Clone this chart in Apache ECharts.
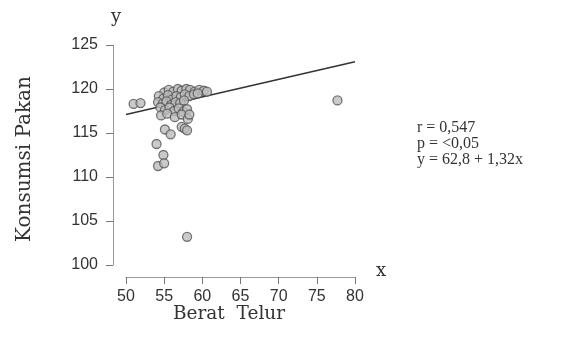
<!DOCTYPE html>
<html><head><meta charset="utf-8">
<script src="https://cdn.jsdelivr.net/npm/echarts@6/dist/echarts.min.js"></script>
<style>html,body{margin:0;padding:0;background:#fff}#c{width:588px;height:347px}</style>
</head><body><div id="c"></div>
<script>
const xTicks = [50, 55, 60, 65, 70, 75, 80];
const yTicks = [100, 105, 110, 115, 120, 125];
const beratTelur = [
  51.0, 51.9,
  55.0, 55.6, 56.2, 56.8, 57.3, 57.9, 58.4, 59.0, 59.6, 60.2, 60.6,
  54.3, 54.9, 55.5, 56.0, 56.6, 57.2, 57.7, 58.3, 58.9, 59.4,
  54.2, 54.8, 55.3, 55.9, 56.5, 57.1, 57.6,
  54.5, 55.1, 55.7, 56.3, 56.9, 57.5, 58.0,
  54.6, 55.4, 56.4, 57.3, 58.1, 58.3,
  55.1, 55.85, 57.3, 57.7, 58.0,
  54.0, 54.9, 54.2, 55.0,
  58.0, 77.7
];
const konsumsiPakan = [
  118.3, 118.4,
  119.6, 119.9, 119.7, 120.0, 119.8, 120.0, 119.9, 119.7, 119.9, 119.8, 119.7,
  119.2, 118.9, 119.3, 118.8, 119.2, 119.1, 119.4, 119.2, 119.4, 119.5,
  118.5, 118.3, 118.6, 118.2, 118.5, 118.4, 118.7,
  117.9, 117.6, 117.9, 117.5, 117.8, 117.4, 117.7,
  117.0, 117.2, 116.8, 117.1, 116.6, 117.1,
  115.4, 114.85, 115.7, 115.5, 115.3,
  113.75, 112.5, 111.25, 111.55,
  103.2, 118.7
];
const fitX = [50, 80];
const fitY = [117.1, 123.1];
const statLines = ['r = 0,547', 'p = <0,05', 'y = 62,8 + 1,32x'];

const chart = echarts.init(document.getElementById('c'), null, {renderer: 'canvas'});
const serif = '"DejaVu Serif", "Liberation Serif", serif';
chart.setOption({
  animation: false,
  grid: {left: 126, right: 233, top: 45, bottom: 82},
  xAxis: {
    type: 'value', min: xTicks[0], max: xTicks[xTicks.length - 1], interval: 5,
    offset: 12,
    axisLine: {show: true, lineStyle: {color: '#999', width: 1}},
    axisTick: {show: true, length: 7, lineStyle: {color: '#777'}},
    axisLabel: {margin: 12, color: '#333', fontSize: 16, fontFamily: '"Liberation Sans", Arial, sans-serif'},
    splitLine: {show: false}
  },
  yAxis: {
    type: 'value', min: yTicks[0], max: yTicks[yTicks.length - 1], interval: 5,
    offset: 13,
    axisLine: {show: true, lineStyle: {color: '#999', width: 1}},
    axisTick: {show: true, length: 7, lineStyle: {color: '#777'}},
    axisLabel: {margin: 15, color: '#333', fontSize: 16, fontFamily: '"Liberation Sans", Arial, sans-serif'},
    splitLine: {show: false}
  },
  series: [
    {
      type: 'line', data: fitX.map((x, i) => [x, fitY[i]]), symbol: 'none',
      lineStyle: {color: '#333', width: 1.5}, z: 1
    },
    {
      type: 'scatter', data: beratTelur.map((x, i) => [x, konsumsiPakan[i]]),
      symbolSize: 9,
      itemStyle: {color: '#bdbdbd', borderColor: '#555', borderWidth: 1.3}, z: 2
    }
  ],
  graphic: [
    {type: 'text', left: 111, top: 8, style: {text: 'y', font: '18px ' + serif, fill: '#333'}},
    {type: 'text', left: 376, top: 262, style: {text: 'x', font: '18px ' + serif, fill: '#333'}},
    {type: 'text', x: 229, y: 314, style: {text: 'Berat  Telur', font: '18.5px ' + serif, fill: '#333', align: 'center', verticalAlign: 'middle'}},
    {type: 'text', x: 25, y: 159, rotation: Math.PI / 2, style: {text: 'Konsumsi Pakan', font: '20px ' + serif, fill: '#333', align: 'center', verticalAlign: 'middle'}},
    {type: 'text', left: 417, top: 120, style: {text: statLines.join('\n'), font: '16px "Liberation Serif", serif', lineHeight: 16, fill: '#333'}}
  ]
});
</script></body></html>
